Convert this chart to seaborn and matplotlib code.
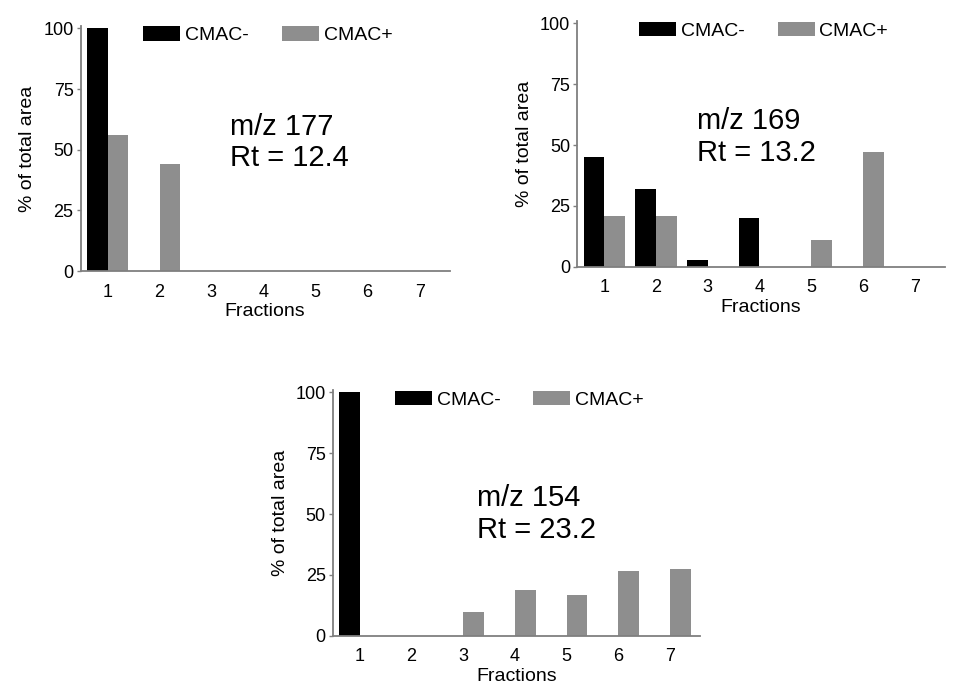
import pandas as pd
import numpy as np
import seaborn as sns
import matplotlib.pyplot as plt

fractions = [1, 2, 3, 4, 5, 6, 7]
samples = ["CMAC-", "CMAC+"]

# m/z 177, Rt 12.4
mz177_minus = [100, 0, 0, 0, 0, 0, 0]
mz177_plus = [56, 44, 0, 0, 0, 0, 0]
# m/z 169, Rt 13.2
mz169_minus = [45, 32, 3, 20, 0, 0, 0]
mz169_plus = [21, 21, 0, 0, 11, 47, 0]
# m/z 154, Rt 23.2
mz154_minus = [100, 0, 0, 0, 0, 0, 0]
mz154_plus = [0, 0, 10, 19, 17, 26.5, 27.5]

panels = [
    ("m/z 177\nRt = 12.4", mz177_minus, mz177_plus),
    ("m/z 169\nRt = 13.2", mz169_minus, mz169_plus),
    ("m/z 154\nRt = 23.2", mz154_minus, mz154_plus),
]

sns.set_theme(style="white")
plt.rcParams['font.family'] = ['Liberation Sans', 'DejaVu Sans']
plt.rcParams['text.color'] = 'black'
plt.rcParams['axes.labelcolor'] = 'black'
plt.rcParams['xtick.color'] = 'black'
plt.rcParams['ytick.color'] = 'black'

fig = plt.figure(figsize=(9.59, 6.94), dpi=100)
# axes rectangles (left, bottom, width, height) in figure fraction
rects = [
    [0.084, 0.6095, 0.385, 0.353],
    [0.602, 0.6153, 0.383, 0.355],
    [0.347, 0.0836, 0.383, 0.355],
]
text_pos = [(0.405, 0.645), (0.326, 0.648), (0.392, 0.615)]
leg_pos = [(0.17, 0.963), (0.168, 0.959), (0.169, 0.959)]

for i, (note, minus, plus) in enumerate(panels):
    ax = fig.add_axes(rects[i])
    df = pd.DataFrame({
        "Fraction": fractions * 2,
        "Area": minus + plus,
        "Sample": ["CMAC-"] * len(fractions) + ["CMAC+"] * len(fractions),
    })
    sns.barplot(data=df, x="Fraction", y="Area", hue="Sample", hue_order=samples,
                palette=["#000000", "#8e8e8e"], saturation=1, width=0.8,
                linewidth=0, ax=ax)
    ax.set_ylim(0, 101)
    ax.set_xlim(-0.52, 6.58)
    ax.set_yticks([0, 25, 50, 75, 100])
    ax.set_xlabel("Fractions", fontsize=14, labelpad=2)
    ax.set_ylabel("% of total area", fontsize=14, labelpad=5)
    ax.tick_params(axis="x", length=0, pad=9, labelsize=13)
    ax.tick_params(axis="y", length=3, width=1, color="#7f7f7f", pad=2, labelsize=13,
                   left=True, labelcolor="black")
    for s in ["top", "right"]:
        ax.spines[s].set_visible(False)
    for s in ["left", "bottom"]:
        ax.spines[s].set_color("#7f7f7f")
        ax.spines[s].set_linewidth(1.3)

    handles, labels = ax.get_legend_handles_labels()
    ax.legend(handles, labels, loc="center left", bbox_to_anchor=leg_pos[i],
              ncol=2, frameon=False, fontsize=14, handlelength=1.9,
              handleheight=0.8, handletextpad=0.25, columnspacing=1.7,
              borderpad=0, borderaxespad=0)

    ax.text(text_pos[i][0], text_pos[i][1], note, transform=ax.transAxes,
            fontsize=21, va="top", ha="left", linespacing=1.15, color="black")

plt.savefig("out.png", dpi=100)
